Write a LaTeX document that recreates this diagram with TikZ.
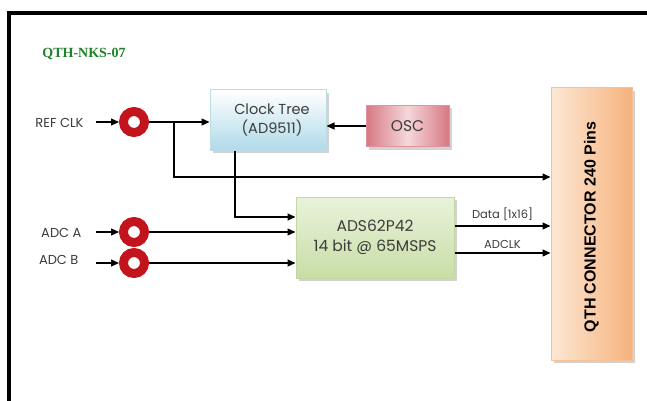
\documentclass[tikz,border=0pt]{standalone}
\usepackage{fontspec}
\setmainfont{Poppins}
\newfontfamily\labfont{Poppins}
\newfontfamily\boldsans{Liberation Sans}
\newfontfamily\titlefont{Liberation Serif}
\usetikzlibrary{arrows.meta,shadows,calc}
\definecolor{txtgrey}{RGB}{60,60,60}
\definecolor{ringred}{RGB}{195,20,30}
\definecolor{titlegreen}{RGB}{30,130,40}
\definecolor{ctblue}{RGB}{175,218,232}
\definecolor{ctedge}{RGB}{190,220,230}
\definecolor{oscred}{RGB}{215,120,130}
\definecolor{osclight}{RGB}{245,215,218}
\definecolor{adsgreen}{RGB}{200,222,165}
\definecolor{adsedge}{RGB}{195,215,160}
\definecolor{qthorange}{RGB}{245,178,125}
\definecolor{qthlight}{RGB}{253,232,212}
\tikzset{
  arr/.style={line width=1.2pt,-{Triangle[length=8pt,width=7pt]}},
  ring/.style={circle,draw=ringred,line width=9pt,minimum size=21pt,inner sep=0pt,fill=white},
  blk/.style={draw,line width=1pt,align=center,font=\labfont\fontsize{15.5}{20}\selectfont,text=txtgrey,
     drop shadow={shadow xshift=3pt,shadow yshift=-3pt,fill=black!35}},
  lab/.style={font=\labfont\fontsize{13}{15}\selectfont,text=txtgrey},
  sig/.style={font=\labfont\fontsize{11.5}{13}\selectfont,text=txtgrey}
}
\begin{document}
\begin{tikzpicture}[x=1pt,y=-1pt]
\useasboundingbox (0,0) rectangle (647,401);
% frame
\draw[line width=4pt] (647,13.5) -- (9,13.5) -- (9,401);
% title
\node[font=\titlefont\bfseries\fontsize{14}{16}\selectfont,text=titlegreen] (title) at (84,54) {QTH-NKS-07};
% blocks
\node[blk,draw=ctedge,top color=white,bottom color=ctblue,minimum width=116pt,minimum height=60pt,font=\labfont\fontsize{14.5}{19}\selectfont] (ct) at (268,120) {\hspace*{8pt}Clock Tree\\\hspace*{8pt}(AD9511)};
\node[blk,draw=oscred!80,left color=oscred,right color=oscred,middle color=osclight,minimum width=83pt,minimum height=41pt] (osc) at (407.5,126) {OSC};
\node[blk,draw=adsedge,top color=white!60!adsgreen,bottom color=adsgreen,minimum width=158pt,minimum height=81pt] (ads) at (375,237.5) {ADS62P42\\14 bit @ 65MSPS};
\node[blk,draw=qthorange!80,left color=qthlight,right color=qthorange,minimum width=81pt,minimum height=272pt] (qth) at (591.5,224) {};
\node[rotate=90,font=\boldsans\bfseries\fontsize{16}{18}\selectfont] (qthtxt) at ([yshift=-3pt]qth.center) {QTH CONNECTOR 240 Pins};
% rings
\node[ring] (rref) at (134,122) {};
\node[ring] (ra) at (134,232) {};
\node[ring] (rb) at (134,263) {};
% input labels
\node[lab,anchor=east] (lref) at (87,123) {REF CLK};
\node[lab,anchor=east] (la) at (85,233) {ADC A};
\node[lab,anchor=east] (lb) at (82,260) {ADC B};
\coordinate (sref) at (96,122);
\coordinate (sa) at (96,232);
\coordinate (sb) at (96,263);
\draw[arr] (sref) -- (rref.west);
\draw[arr] (sa) -- (ra.west);
\draw[arr] (sb) -- (rb.west);
% ref clk
\coordinate (br) at (174,122);
\draw[arr] (rref.east) -- (rref.east -| ct.west);
\coordinate (qin) at (qth.west |- 0,177);
\draw[arr] (br) |- (qin);
% osc
\draw[arr] (osc.west) -- (osc.west -| ct.east);
% clock tree to ads
\coordinate (ctd) at ([xshift=-33pt]ct.south);
\coordinate (adsc) at ([yshift=20.5pt]ads.west);
\draw[arr] (ctd) |- (adsc);
% adc lines
\draw[arr] (ra.east) -- (ra.east -| ads.west);
\draw[arr] (rb.east) -- (rb.east -| ads.west);
% outputs
\coordinate (dout) at (ads.east |- 0,226);
\coordinate (cout) at (ads.east |- 0,253);
\draw[arr] (dout) -- (dout -| qth.west) node[sig,midway,above=1pt] (ldata) {Data [1x16]};
\draw[arr] (cout) -- (cout -| qth.west) node[sig,midway,above=1pt] (lclk) {ADCLK};
\end{tikzpicture}
\end{document}
